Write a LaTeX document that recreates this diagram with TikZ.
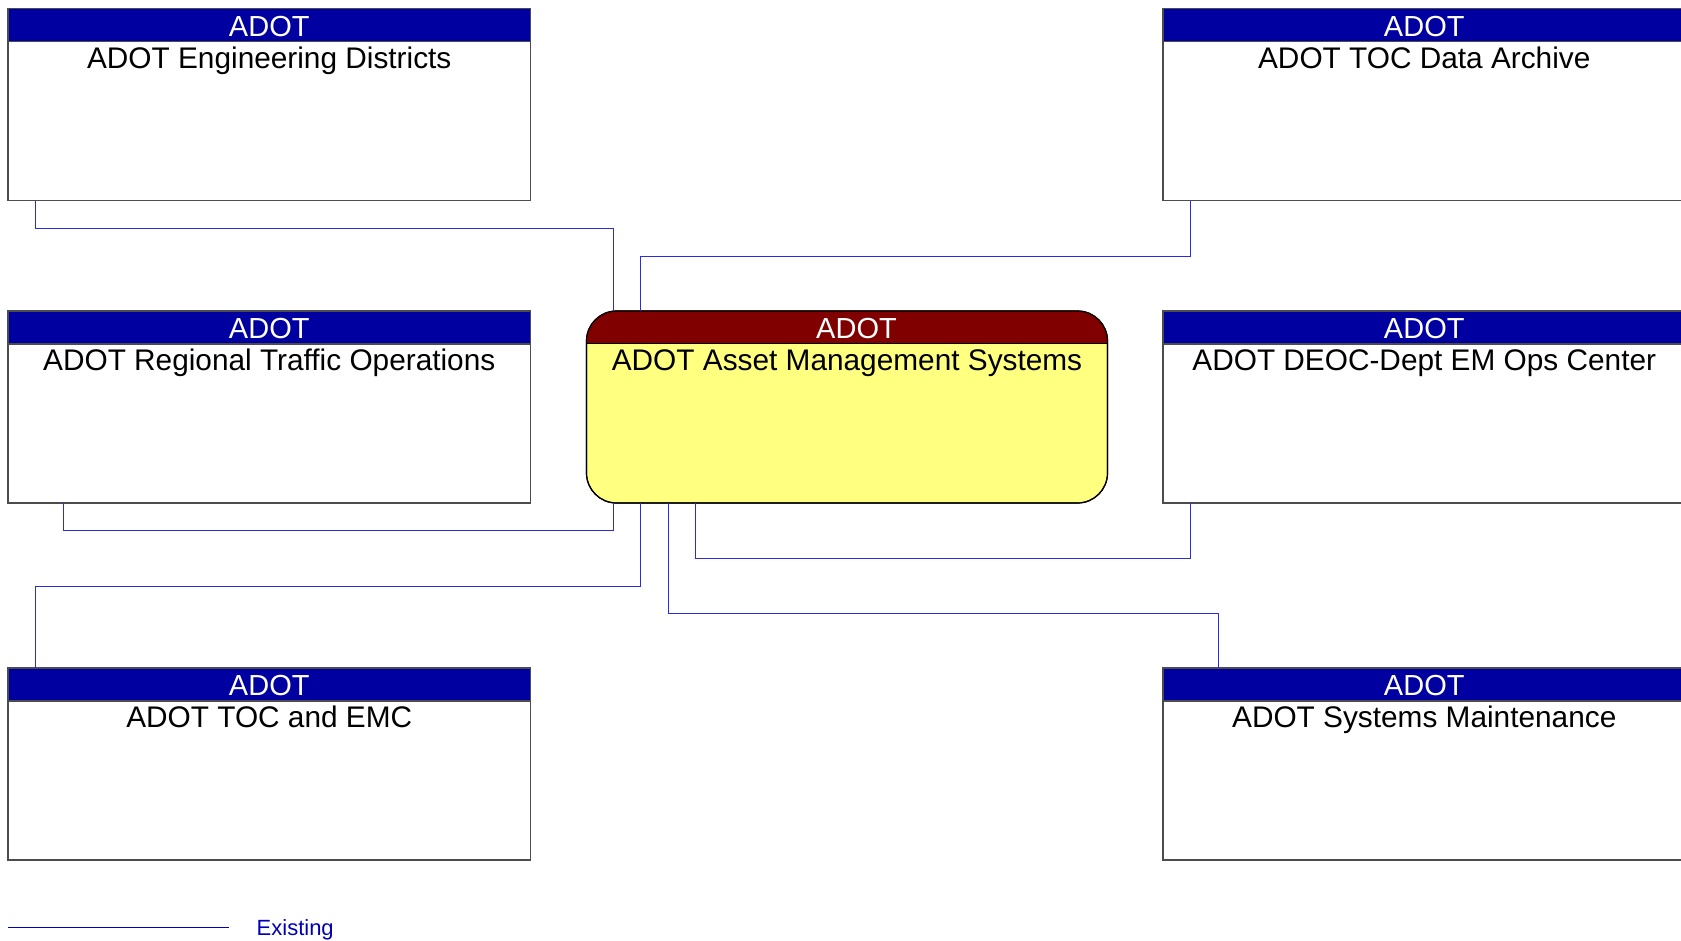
\documentclass[tikz,border=0pt]{standalone}
\usepackage{fontspec}
\setmainfont{Liberation Sans}
\usepackage{tikz}
\usetikzlibrary{
  positioning,
  calc
}
\definecolor{hdrblue}{HTML}{0000A0}
\definecolor{hdrred}{HTML}{800000}
\definecolor{mainfill}{HTML}{FFFF80}
\definecolor{linkcolor}{HTML}{2B2BE0}
\definecolor{legcolor}{HTML}{0000B4}

\begin{document}
\begin{tikzpicture}[x=1pt, y=-1pt,
  sysbox/.style={draw=gray!60!black, line width=1.2pt, fill=white,
                 minimum width=522.5pt, minimum height=192pt,
                 inner sep=0pt, outer sep=0pt},
  mainbox/.style={draw=black, line width=1.2pt, fill=mainfill,
                  rounded corners=30pt, minimum width=521pt,
                  minimum height=192pt, inner sep=0pt, outer sep=0pt},
  hdr/.style={draw=gray!60!black, line width=1.2pt, fill=hdrblue,
              minimum width=522.5pt, minimum height=33pt,
              inner sep=0pt, outer sep=0pt},
  hdrtxt/.style={font=\fontsize{29}{34}\selectfont, text=white, inner sep=0pt},
  ttl/.style={font=\fontsize{29.8}{34}\selectfont, inner sep=0pt},
  link/.style={draw=linkcolor, line width=1pt},
  legline/.style={draw=legcolor, line width=1.5pt},
  legtxt/.style={font=\fontsize{22}{26}\selectfont, text=legcolor, inner sep=0pt},
]
  \useasboundingbox[fill=white] (0,0) rectangle (1681,940);

  % Left column
  \node[sysbox] (eng) at (269.25,104.6) {};
  \node[hdr, anchor=north] (engh) at (eng.north) {};
  \node[hdrtxt, anchor=base] (engl) at ([yshift=-27.5pt]eng.north) {ADOT};
  \node[ttl, anchor=base] (engt) at ([yshift=-60pt]eng.north) {ADOT Engineering Districts};

  \node[sysbox] (reg) at (269.25,407) {};
  \node[hdr, anchor=north] (regh) at (reg.north) {};
  \node[hdrtxt, anchor=base] (regl) at ([yshift=-27.5pt]reg.north) {ADOT};
  \node[ttl, anchor=base] (regt) at ([yshift=-59.5pt]reg.north) {ADOT Regional Traffic Operations};

  \node[sysbox] (emc) at (269.25,764) {};
  \node[hdr, anchor=north] (emch) at (emc.north) {};
  \node[hdrtxt, anchor=base] (emcl) at ([yshift=-27.5pt]emc.north) {ADOT};
  \node[ttl, anchor=base] (emct) at ([yshift=-59.5pt]emc.north) {ADOT TOC and EMC};

  % Right column
  \node[sysbox] (arch) at (1424.25,104.6) {};
  \node[hdr, anchor=north] (archh) at (arch.north) {};
  \node[hdrtxt, anchor=base] (archl) at ([yshift=-27.5pt]arch.north) {ADOT};
  \node[ttl, anchor=base] (archt) at ([yshift=-60pt]arch.north) {ADOT TOC Data Archive};

  \node[sysbox] (deoc) at (1424.25,407) {};
  \node[hdr, anchor=north] (deoch) at (deoc.north) {};
  \node[hdrtxt, anchor=base] (deocl) at ([yshift=-27.5pt]deoc.north) {ADOT};
  \node[ttl, anchor=base] (deoct) at ([yshift=-59.5pt]deoc.north) {ADOT DEOC-Dept EM Ops Center};

  \node[sysbox] (maint) at (1424.25,764) {};
  \node[hdr, anchor=north] (mainth) at (maint.north) {};
  \node[hdrtxt, anchor=base] (maintl) at ([yshift=-27.5pt]maint.north) {ADOT};
  \node[ttl, anchor=base] (maintt) at ([yshift=-59.5pt]maint.north) {ADOT Systems Maintenance};

  % Centre system
  \node[mainbox] (main) at (847,407) {};
  \begin{scope}
    \clip[rounded corners=30pt] (main.south west) rectangle (main.north east);
    \fill[hdrred] (main.north west) rectangle ([yshift=-32.5pt]main.north east);
  \end{scope}
  \draw[line width=1.2pt, rounded corners=30pt] (main.south west) rectangle (main.north east);
  \draw[line width=1.2pt] ([yshift=-32.5pt]main.north west) -- ([yshift=-32.5pt]main.north east);
  \node[hdrtxt, anchor=base] (mainl) at ([xshift=9.5pt, yshift=-27.5pt]main.north) {ADOT};
  \node[ttl, anchor=base] (maint2) at ([yshift=-59.5pt]main.north) {ADOT Asset Management Systems};

  % Flows
  \draw[link] ([xshift=27.5pt]eng.south west) -- ++(0,27.5) -| ([xshift=27pt]main.north west);
  \draw[link] ([xshift=54pt]main.north west) -- ++(0,-55) -| ([xshift=27.5pt]arch.south west);
  \draw[link] ([xshift=55.5pt]reg.south west) -- ++(0,27.5) -| ([xshift=27pt]main.south west);
  \draw[link] ([xshift=109pt]main.south west) -- ++(0,55) -| ([xshift=27.5pt]deoc.south west);
  \draw[link] ([xshift=54pt]main.south west) -- ++(0,83) -| ([xshift=27.5pt]emc.north west);
  \draw[link] ([xshift=81.5pt]main.south west) -- ++(0,110) -| ([xshift=55pt]maint.north west);

  % Legend
  \coordinate (lgstart) at (8,927.3);
  \coordinate (lgend) at (228.7,927.3);
  \draw[legline] (lgstart) -- (lgend);
  \node[legtxt, anchor=base west] (lgtxt) at (256.5,935) {Existing};

\end{tikzpicture}
\end{document}
